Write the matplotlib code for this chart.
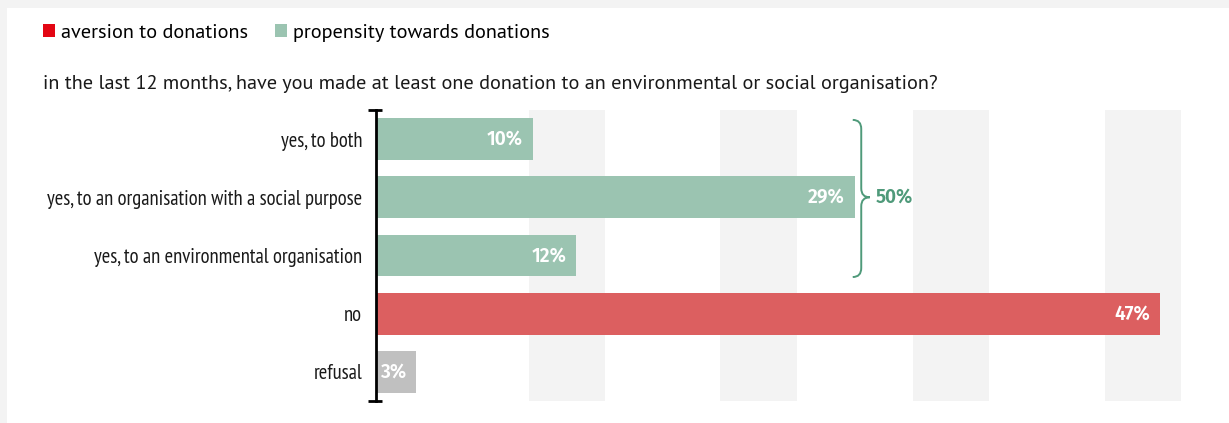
import matplotlib
matplotlib.use("Agg")
import matplotlib.pyplot as plt
from matplotlib.patches import Patch, Rectangle, PathPatch
from matplotlib.path import Path

# ---- data ----
categories = ["yes, to both",
              "yes, to an organisation with a social purpose",
              "yes, to an environmental organisation",
              "no",
              "refusal"]
values = [9.4, 28.7, 12.0, 47.0, 2.4]
value_labels = ["10%", "29%", "12%", "47%", "3%"]
groups = ["propensity", "propensity", "propensity", "aversion", "refusal"]
brace_label = "50%"
legend_labels = ["aversion to donations", "propensity towards donations"]
title = "in the last 12 months, have you made at least one donation to an environmental or social organisation?"
# background stripe bands (x-value ranges)
stripe_bands = [(9.17, 13.73), (20.62, 25.24), (32.19, 36.75), (43.70, 48.26)]

bar_colors = {"propensity": "#9bc4b1", "aversion": "#dc5f60", "refusal": "#c0c0c0"}
legend_colors = ["#e30613", "#9bc4b1"]
brace_color = "#4f9a7a"

SANS = ["PT Sans", "DejaVu Sans"]
NARROW = ["PT Sans Narrow", "DejaVu Sans"]
BOLD = ["Fira Sans", "DejaVu Sans"]

W, H, DPI = 1229, 423, 100
fig = plt.figure(figsize=(W / DPI, H / DPI), dpi=DPI)
fig.patch.set_facecolor("white")
# light frame on top and left
fig.add_artist(Rectangle((0, 1 - 8 / H), 1, 8 / H, transform=fig.transFigure,
                         color="#f3f3f3", lw=0, zorder=-10))
fig.add_artist(Rectangle((0, 0), 7 / W, 1, transform=fig.transFigure,
                         color="#f3f3f3", lw=0, zorder=-10))

ax_l, ax_r, ax_t, ax_b = 376, 1213, 110, 401
ax = fig.add_axes([ax_l / W, 1 - ax_b / H, (ax_r - ax_l) / W, (ax_b - ax_t) / H])
ax.set_facecolor("none")
px_per_unit = (1160 - ax_l) / 47.0
xmax = (ax_r - ax_l) / px_per_unit
ax.set_xlim(0, xmax)
ax.set_ylim(len(categories) - 0.5, -0.5)

for a, b in stripe_bands:
    ax.axvspan(a, b, color="#f3f3f3", lw=0, zorder=0)

ypos = list(range(len(categories)))
bars = ax.barh(ypos, values, height=0.72, color=[bar_colors[g] for g in groups],
               zorder=2)

for y, v, lab in zip(ypos, values, value_labels):
    ax.text(v - 10 / px_per_unit, y, lab, ha="right", va="center", color="white",
            fontsize=13.8, fontweight="semibold", family=BOLD, zorder=3)

# axis
for s in ["top", "right", "bottom"]:
    ax.spines[s].set_visible(False)
ax.spines["left"].set_linewidth(2)
ax.spines["left"].set_color("black")
ax.set_xticks([])
ax.set_yticks(ypos)
ax.set_yticklabels(categories, family=NARROW, fontsize=14.85, color="#1a1a1a")
ax.tick_params(axis="y", length=0, pad=10)
cap_l, cap_r = -8 / px_per_unit, 6 / px_per_unit
for yy in (-0.5, len(categories) - 0.5):
    ax.plot([cap_l, cap_r], [yy, yy], color="black", lw=2, clip_on=False,
            solid_capstyle="butt", zorder=5)

# brace around propensity group
py_per_unit = (ax_b - ax_t) / len(categories)
prop_idx = [i for i, g in enumerate(groups) if g == "propensity"]
x0 = max(values[i] for i in prop_idx) - 2 / px_per_unit
rx = 8.5 / px_per_unit
ry = 9 / py_per_unit
y_top = min(prop_idx) - 0.33
y_bot = max(prop_idx) + 0.37
y_mid = (min(prop_idx) + max(prop_idx)) / 2
x1, x2 = x0 + rx, x0 + 2 * rx
verts = [(x0, y_top), (x1, y_top), (x1, y_top + ry),
         (x1, y_mid - ry), (x1, y_mid), (x2, y_mid),
         (x1, y_mid), (x1, y_mid + ry),
         (x1, y_bot - ry), (x1, y_bot), (x0, y_bot)]
codes = [Path.MOVETO, Path.CURVE3, Path.CURVE3,
         Path.LINETO, Path.CURVE3, Path.CURVE3,
         Path.CURVE3, Path.CURVE3,
         Path.LINETO, Path.CURVE3, Path.CURVE3]
ax.add_patch(PathPatch(Path(verts, codes), fill=False, edgecolor=brace_color,
                       lw=1.4, zorder=4, clip_on=False))
ax.text(x2 + 6 / px_per_unit, y_mid, brace_label, ha="left", va="center",
        color=brace_color, fontsize=13.8, fontweight="semibold", family=BOLD)

# legend
handles = [Patch(facecolor=c, edgecolor="none") for c in legend_colors]
fig.legend(handles, legend_labels, loc="upper left",
           bbox_to_anchor=(43 / W, 1 - 24 / H), ncol=2, frameon=False,
           prop={"family": SANS, "size": 14.6},
           handlelength=0.6, handleheight=0.6, handletextpad=0.27,
           columnspacing=1.35, borderpad=0, borderaxespad=0)

fig.text(43 / W, 1 - 84 / H, title, ha="left", va="center", fontsize=14.6,
         family=SANS, color="#1a1a1a")

fig.savefig("out.png", dpi=DPI)
